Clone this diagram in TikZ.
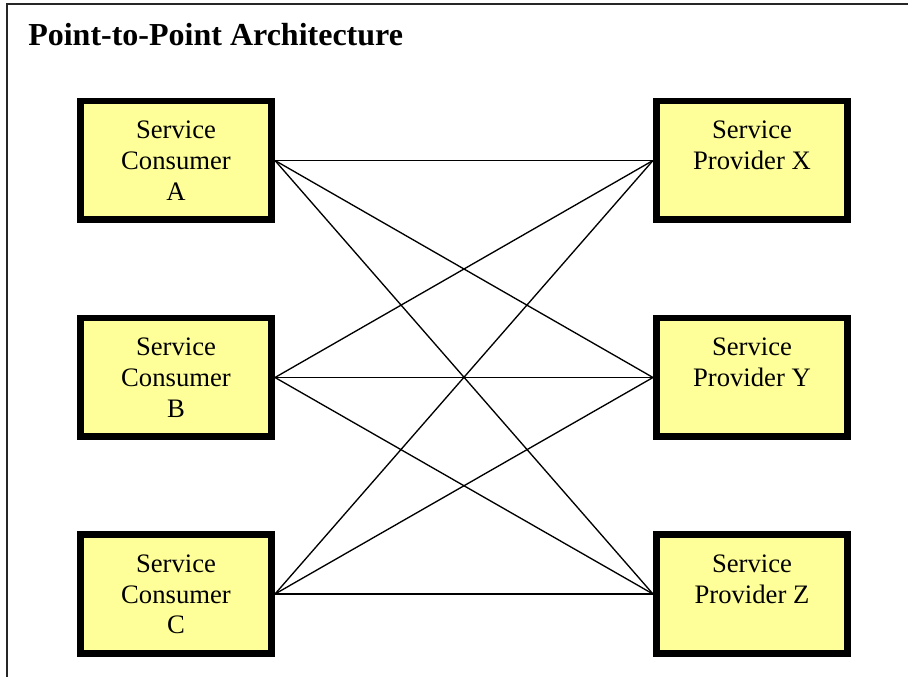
\documentclass[tikz,border=0pt]{standalone}
\usepackage{fontspec}
\setmainfont{Liberation Serif}
% a taller strut for the first line pushes each three-line label a little down
\newcommand{\topstrut}{\rule{0pt}{20.6pt}}
\begin{document}
\begin{tikzpicture}[x=0.75pt,y=-0.75pt,
  svcbox/.style={draw=black, line width=4.9pt, fill=boxyellow,
    minimum width=143.6pt, minimum height=88.9pt, inner sep=0pt,
    align=center, font=\fontsize{20}{23}\selectfont},
  wire/.style={line width=1pt, black},
  frameline/.style={line width=1.5pt, black!85}]
  \definecolor{boxyellow}{HTML}{FFFF99}
  \useasboundingbox (0,0) rectangle (908,677);
  % outer frame (runs off the right and bottom edges)
  \draw[frameline] (7,690) -- (7,4) -- (920,4);
  % title
  \node[anchor=base west, inner sep=0pt, font=\fontsize{24}{28}\selectfont\bfseries]
    (title) at (28,46) {Point-to-Point Architecture};
  % consumers
  \node[svcbox] (ca) at (176,160.5) {\topstrut Service\\Consumer\strut\\A\strut};
  \node[svcbox] (cb) at (176,377.5) {\topstrut Service\\Consumer\strut\\B\strut};
  \node[svcbox] (cc) at (176,594)   {\topstrut Service\\Consumer\strut\\C\strut};
  % providers
  \node[svcbox] (px) at (752,160.5) {\topstrut Service\\Provider X\strut\\\strut};
  \node[svcbox] (py) at (752,377.5) {\topstrut Service\\Provider Y\strut\\\strut};
  \node[svcbox] (pz) at (752,594)   {\topstrut Service\\Provider Z\strut\\\strut};
  % every consumer linked to every provider
  \foreach \c in {ca,cb,cc}
    \foreach \p in {px,py,pz}
      \draw[wire] (\c.east) -- (\p.west);
\end{tikzpicture}
\end{document}
